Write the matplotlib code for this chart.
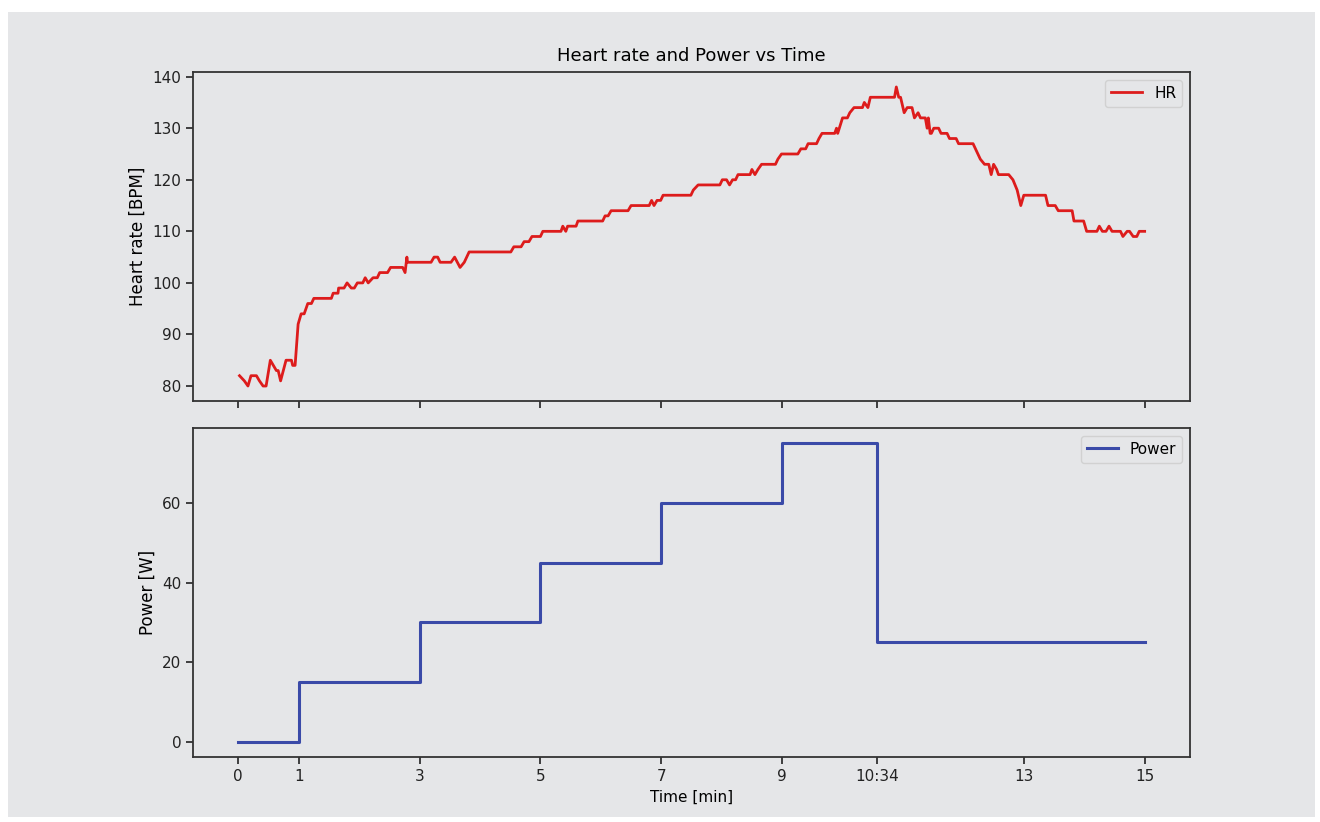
import numpy as np
import matplotlib.pyplot as plt
from matplotlib.patches import Rectangle

# Heart rate samples (time in minutes, bpm)
hr_time = [0.02, 0.10, 0.16, 0.21, 0.30, 0.35, 0.41, 0.46, 0.53, 0.63, 0.66, 0.70,
           0.79, 0.88, 0.90, 0.94, 0.99, 1.04, 1.09, 1.15, 1.21, 1.25, 1.54, 1.57,
           1.65, 1.66, 1.75, 1.80, 1.87, 1.92, 1.97, 2.06, 2.10, 2.15, 2.23, 2.30,
           2.34, 2.47, 2.52, 2.72, 2.76, 2.79, 2.80, 3.19, 3.24, 3.30, 3.34, 3.52,
           3.58, 3.67, 3.74, 3.82, 4.51, 4.56, 4.68, 4.73, 4.81, 4.86, 5.00, 5.04,
           5.34, 5.37, 5.42, 5.45, 5.59, 5.62, 6.03, 6.07, 6.12, 6.17, 6.45, 6.50,
           6.80, 6.84, 6.88, 6.93, 6.99, 7.03, 7.49, 7.53, 7.61, 7.97, 8.01, 8.08,
           8.13, 8.18, 8.23, 8.27, 8.47, 8.50, 8.55, 8.60, 8.66, 8.89, 8.93, 8.99,
           9.26, 9.31, 9.39, 9.43, 9.57, 9.61, 9.66, 9.87, 9.90, 9.92, 10.00, 10.08,
           10.12, 10.19, 10.33, 10.36, 10.42, 10.46, 10.86, 10.89, 10.93, 10.96, 11.02, 11.07,
           11.15, 11.19, 11.25, 11.29, 11.37, 11.40, 11.42, 11.45, 11.47, 11.51, 11.59, 11.63,
           11.73, 11.77, 11.88, 11.92, 12.16, 12.20, 12.28, 12.35, 12.42, 12.46, 12.50, 12.55,
           12.58, 12.75, 12.82, 12.89, 12.95, 13.00, 13.36, 13.40, 13.52, 13.57, 13.80, 13.83,
           13.99, 14.04, 14.21, 14.25, 14.30, 14.36, 14.41, 14.46, 14.60, 14.64, 14.71, 14.75,
           14.81, 14.87, 14.91, 15.00]
hr_bpm = [82, 81, 80, 82, 82, 81, 80, 80, 85, 83, 83, 81,
          85, 85, 84, 84, 92, 94, 94, 96, 96, 97, 97, 98,
          98, 99, 99, 100, 99, 99, 100, 100, 101, 100, 101, 101,
          102, 102, 103, 103, 102, 105, 104, 104, 105, 105, 104, 104,
          105, 103, 104, 106, 106, 107, 107, 108, 108, 109, 109, 110,
          110, 111, 110, 111, 111, 112, 112, 113, 113, 114, 114, 115,
          115, 116, 115, 116, 116, 117, 117, 118, 119, 119, 120, 120,
          119, 120, 120, 121, 121, 122, 121, 122, 123, 123, 124, 125,
          125, 126, 126, 127, 127, 128, 129, 129, 130, 129, 132, 132,
          133, 134, 134, 135, 134, 136, 136, 138, 136, 136, 133, 134,
          134, 132, 133, 132, 132, 130, 132, 129, 129, 130, 130, 129,
          129, 128, 128, 127, 127, 126, 124, 123, 123, 121, 123, 122,
          121, 121, 120, 118, 115, 117, 117, 115, 115, 114, 114, 112,
          112, 110, 110, 111, 110, 110, 111, 110, 110, 109, 110, 110,
          109, 109, 110, 110]

# Power protocol stages (start time in minutes, watts)
stage_start = [0, 1, 3, 5, 7, 9, 10 + 34 / 60, 15]
stage_power = [0, 15, 30, 45, 60, 75, 25, 25]

tick_pos = [0, 1, 3, 5, 7, 9, 10 + 34 / 60, 13, 15]
tick_lab = ['0', '1', '3', '5', '7', '9', '10:34', '13', '15']

bg = '#e5e6e8'
plt.rcParams['font.family'] = 'DejaVu Sans'
plt.rcParams['font.size'] = 11

fig = plt.figure(figsize=(13.2, 8.22), dpi=100, facecolor='white')
fig.patches.append(Rectangle((0.006, 0.006), 0.99, 0.979, transform=fig.transFigure,
                             facecolor=bg, edgecolor='none', zorder=-10))

ax1 = fig.add_axes([0.1462, 0.5122, 0.7553, 0.4002])
ax2 = fig.add_axes([0.1462, 0.0791, 0.7553, 0.4002], sharex=ax1)

ax1.plot(hr_time, hr_bpm, color='#dd1c1c', lw=2, label='HR')
ax2.step(stage_start, stage_power, where='post', color='#3a4aa8', lw=2.2, label='Power')

for ax in (ax1, ax2):
    ax.set_facecolor(bg)
    for s in ax.spines.values():
        s.set_color('#333333')
        s.set_linewidth(1.3)
    ax.tick_params(colors='#222222', length=5, width=1.2)
    leg = ax.legend(loc='upper right', frameon=True, fontsize=11)
    leg.get_frame().set_facecolor(bg)
    leg.get_frame().set_edgecolor('#cccccc')

ax2.set_xticks(tick_pos)
ax2.set_xticklabels(tick_lab)
ax1.tick_params(labelbottom=False)
ax1.set_yticks([80, 90, 100, 110, 120, 130, 140])
ax2.set_yticks([0, 20, 40, 60])

ax1.set_title('Heart rate and Power vs Time', fontsize=13, pad=8)
ax1.set_ylabel('Heart rate [BPM]', fontsize=12)
ax2.set_ylabel('Power [W]', fontsize=12)
ax2.set_xlabel('Time [min]', fontsize=11)

fig.savefig('out.png', dpi=100, facecolor=fig.get_facecolor())
